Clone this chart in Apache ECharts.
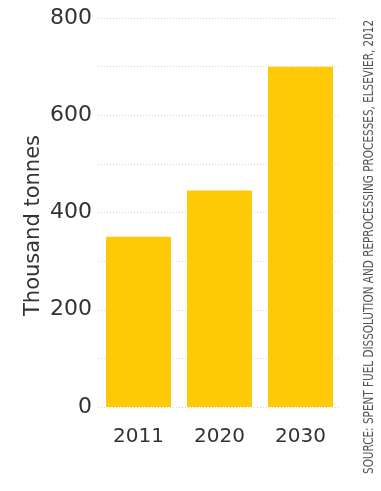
<!DOCTYPE html>
<html>
<head>
<meta charset="utf-8">
<script src="https://cdn.jsdelivr.net/npm/echarts@6/dist/echarts.min.js"></script>
<style>
  html, body { margin: 0; padding: 0; background: #fff; }
  #chart { width: 381px; height: 491px; }
</style>
</head>
<body>
<div id="chart"></div>
<script>
  const years = ["2011", "2020", "2030"];
  const tonnes = [350, 445, 700];
  const source = "SOURCE: SPENT FUEL DISSOLUTION AND REPROCESSING PROCESSES, ELSEVIER, 2012";

  const chart = echarts.init(document.getElementById("chart"));
  chart.setOption({
    animation: false,
    grid: { left: 98, right: 40, top: 18, bottom: 84 },
    xAxis: {
      type: "category",
      data: years,
      axisLine: { show: false },
      axisTick: { show: false },
      axisLabel: {
        color: "#333",
        fontSize: 20,
        fontFamily: "DejaVu Sans",
        margin: 20
      }
    },
    yAxis: {
      type: "value",
      min: 0,
      max: 800,
      interval: 100,
      name: "Thousand tonnes",
      nameLocation: "middle",
      nameMoveOverlap: false,
      nameGap: 54,
      nameTextStyle: {
        color: "#333",
        fontSize: 21,
        fontFamily: "DejaVu Sans",
        padding: [0, 26, 0, 0]
      },
      axisLine: { show: false },
      axisTick: { show: false },
      axisLabel: {
        color: "#333",
        fontSize: 22,
        fontFamily: "DejaVu Sans",
        margin: 6,
        formatter: v => (v % 200 === 0 ? String(v) : "")
      },
      splitLine: {
        lineStyle: { color: "#d4d4d4", type: [1, 2], width: 1 }
      }
    },
    series: [
      {
        type: "bar",
        data: tonnes,
        barWidth: 65,
        itemStyle: { color: "#FEC907" }
      }
    ],
    graphic: [
      {
        type: "text",
        x: 362,
        y: 474,
        rotation: Math.PI / 2,
        scaleX: 0.83,
        style: {
          text: source,
          fill: "#555",
          fontSize: 14,
          fontFamily: "DejaVu Sans Condensed, DejaVu Sans",
          textAlign: "left",
          textVerticalAlign: "top"
        }
      }
    ]
  });
</script>
</body>
</html>
